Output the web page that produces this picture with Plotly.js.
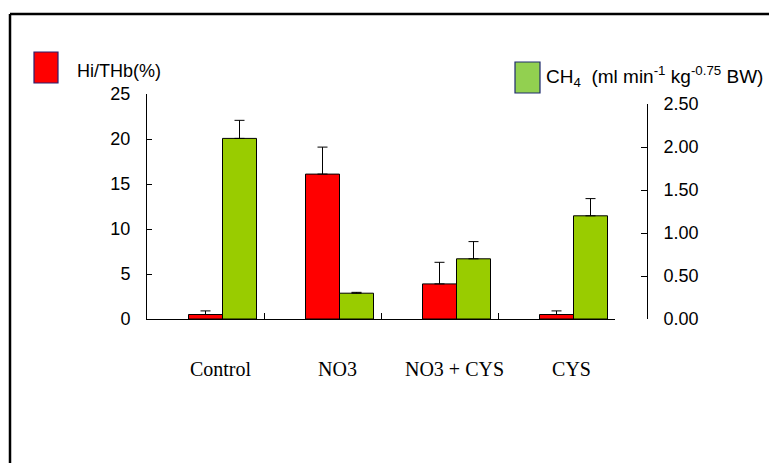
<!DOCTYPE html>
<html>
<head>
<meta charset="utf-8">
<script src="https://cdn.plot.ly/plotly-3.0.1.min.js"></script>
<style>
  html, body { margin: 0; padding: 0; background: #ffffff; }
  #chart { width: 769px; height: 463px; }
</style>
</head>
<body>
<div id="chart"></div>
<script>
// ---- data ----
const categories = ["Control", "NO3", "NO3 + CYS", "CYS"];
const hiThb = [0.5, 16.1, 3.9, 0.5];          // Hi/THb (%) - left axis
const hiThbErr = [0.4, 3.0, 2.4, 0.4];
const ch4 = [2.10, 0.30, 0.70, 1.20];         // CH4 - right axis
const ch4Err = [0.21, 0.01, 0.20, 0.20];
const leftTicks = [0, 5, 10, 15, 20, 25];
const rightTicks = [0, 0.5, 1.0, 1.5, 2.0, 2.5];
const legendLeft = "Hi/THb(%)";
const legendRight = "CH<sub>4</sub>  (ml min<sup>-1</sup> kg<sup>-0.75</sup> BW)";

// ---- geometry helpers (pixel -> paper) ----
const W = 769, H = 463;
const L = 147, R = 647, T = 94, B = 319;     // plot area pixels
const px = x => (x - L) / (R - L);
const py = y => (B - y) / (B - T);
const xDomEnd = px(615);

const barW = 34 / 117;
const sans = "Liberation Sans, Arial, sans-serif";
const serif = "Liberation Serif, Times New Roman, serif";

const traces = [
  {
    type: "bar", x: categories, y: hiThb, name: legendLeft,
    xaxis: "x", yaxis: "y",
    width: barW, offset: -barW / 2,
    marker: { color: "#FF0000", line: { color: "#000000", width: 1 } },
    error_y: { type: "data", symmetric: false, array: hiThbErr,
               arrayminus: hiThb.map(() => 0), color: "#000000", thickness: 1, width: 5 },
    showlegend: false, hoverinfo: "skip"
  },
  {
    type: "bar", x: categories, y: ch4, name: "CH4",
    xaxis: "x", yaxis: "y2",
    width: barW, offset: barW / 2,
    marker: { color: "#99CC00", line: { color: "#000000", width: 1 } },
    error_y: { type: "data", symmetric: false, array: ch4Err,
               arrayminus: ch4.map(() => 0), color: "#000000", thickness: 1, width: 5 },
    showlegend: false, hoverinfo: "skip"
  }
];

const layout = {
  width: W, height: H,
  margin: { l: L, r: W - R, t: T, b: H - B, pad: 0 },
  paper_bgcolor: "#ffffff", plot_bgcolor: "rgba(0,0,0,0)",
  showlegend: false,
  barmode: "overlay",
  xaxis: {
    type: "category", domain: [0, xDomEnd], range: [-0.5, 3.5],
    showline: true, linecolor: "#000000", linewidth: 1,
    showgrid: false, zeroline: false,
    tickson: "boundaries", ticks: "inside", ticklen: 6, tickcolor: "#000000",
    tickfont: { family: serif, size: 20, color: "#000000" },
    ticklabelshift: 15, ticklabelstandoff: 32,
    fixedrange: true
  },
  yaxis: {
    domain: [0, 1], range: [0, 25], tickvals: leftTicks,
    showline: true, linecolor: "#000000", linewidth: 1,
    showgrid: false, zeroline: false,
    ticks: "inside", ticklen: 5, tickcolor: "#000000",
    tickfont: { family: sans, size: 18, color: "#000000" },
    ticklabelstandoff: 12,
    fixedrange: true
  },
  yaxis2: {
    domain: [0, py(104)], range: [0, 2.5], tickvals: rightTicks, tickformat: ".2f",
    anchor: "free", position: 1, side: "right",
    showline: true, linecolor: "#000000", linewidth: 1,
    showgrid: false, zeroline: false,
    ticks: "inside", ticklen: 6, tickcolor: "#000000",
    tickfont: { family: sans, size: 18, color: "#000000" },
    ticklabelstandoff: 12,
    fixedrange: true
  },
  shapes: [
    // outer frame (top & left)
    { type: "line", xref: "paper", yref: "paper", x0: px(10), x1: px(769), y0: py(14), y1: py(14),
      line: { color: "#000000", width: 2.5 } },
    { type: "line", xref: "paper", yref: "paper", x0: px(10), x1: px(10), y0: py(14), y1: py(463),
      line: { color: "#000000", width: 2.5 } },
    // legend swatches
    { type: "rect", xref: "paper", yref: "paper", x0: px(34), x1: px(58), y0: py(83), y1: py(52),
      fillcolor: "#FF0000", line: { color: "#2A1F6E", width: 1.2 } },
    { type: "rect", xref: "paper", yref: "paper", x0: px(515), x1: px(540), y0: py(93), y1: py(62),
      fillcolor: "#92D050", line: { color: "#1F2A6E", width: 1.2 } }
  ],
  annotations: [
    { xref: "paper", yref: "paper", x: px(75), y: py(71), xanchor: "left", yanchor: "middle",
      text: legendLeft, showarrow: false, font: { family: sans, size: 18, color: "#000000" } },
    { xref: "paper", yref: "paper", x: px(544), y: py(77), xanchor: "left", yanchor: "middle",
      text: legendRight, showarrow: false, font: { family: sans, size: 19, color: "#000000" } }
  ]
};

Plotly.newPlot("chart", traces, layout, { staticPlot: true, displayModeBar: false });
</script>
</body>
</html>
